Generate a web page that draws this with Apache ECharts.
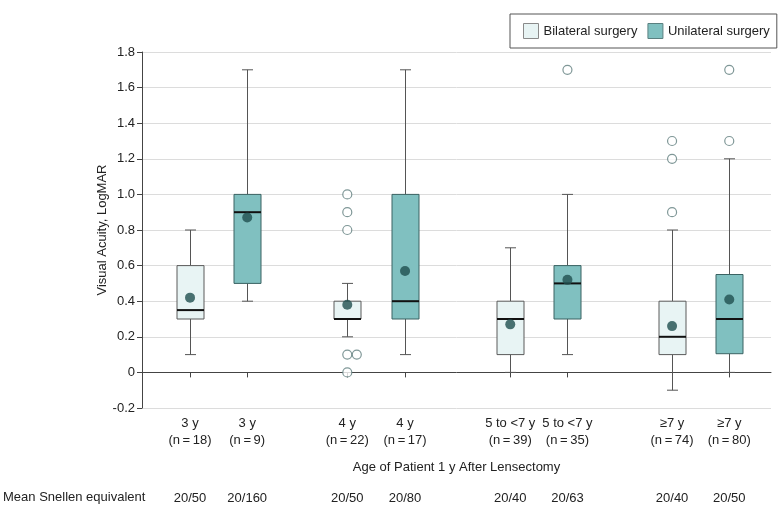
<!DOCTYPE html>
<html><head><meta charset="utf-8">
<script src="https://cdn.jsdelivr.net/npm/echarts@6/dist/echarts.min.js"></script>
<style>html,body{margin:0;padding:0;background:#fff}#c{width:780px;height:512px}</style>
</head><body><div id="c"></div>
<script>
// ---- data ----
const categories = ['3 y', '3 y', '4 y', '4 y', '5 to <7 y', '5 to <7 y', '\u22657 y', '\u22657 y'];
const groupN = [18, 9, 22, 17, 39, 35, 74, 80];
const surgeryType = ['Bilateral surgery', 'Unilateral surgery', 'Bilateral surgery', 'Unilateral surgery',
                     'Bilateral surgery', 'Unilateral surgery', 'Bilateral surgery', 'Unilateral surgery'];
const whiskerLow  = [0.10, 0.40, 0.20, 0.10, 0.00, 0.10, -0.10, 0.00];
const quart1      = [0.30, 0.50, 0.30, 0.30, 0.10, 0.30, 0.10, 0.105];
const medians     = [0.35, 0.90, 0.30, 0.40, 0.30, 0.50, 0.20, 0.30];
const quart3      = [0.60, 1.00, 0.40, 1.00, 0.40, 0.60, 0.40, 0.55];
const whiskerHigh = [0.80, 1.70, 0.50, 1.70, 0.70, 1.00, 0.80, 1.20];
const means       = [0.42, 0.87, 0.38, 0.57, 0.27, 0.52, 0.26, 0.41];
const outlierGroup = [2, 2, 2, 2, 2, 2, 5, 6, 6, 6, 7, 7];
const outlierValue = [1.0, 0.9, 0.8, 0.1, 0.1, 0.0, 1.7, 1.3, 1.2, 0.9, 1.7, 1.3];
const snellen = ['20/50', '20/160', '20/50', '20/80', '20/40', '20/63', '20/40', '20/50'];
const yMin = -0.2, yMax = 1.8, yStep = 0.2;

// ---- layout (positions of groups along x) ----
const xPos = [0.84, 1.84, 3.59, 4.6, 6.44, 7.44, 9.27, 10.27];
const xMax = 11;

const COL = {
  'Bilateral surgery':  {fill: '#e8f4f4', stroke: '#5a5a5a'},
  'Unilateral surgery': {fill: '#80c0c0', stroke: '#3a6262'}
};
const FONT = 'Liberation Sans, Arial, sans-serif';
const TXT = '#222';

function idxOf(v) {
  let best = 0, bd = Infinity;
  xPos.forEach((p, i) => { const d = Math.abs(p - v); if (d < bd) { bd = d; best = i; } });
  return best;
}

function boxData(type) {
  const out = [];
  categories.forEach((c, i) => {
    if (surgeryType[i] === type) out.push([xPos[i], whiskerLow[i], quart1[i], medians[i], quart3[i], whiskerHigh[i]]);
  });
  return out;
}

function makeRender(type) {
  return function (params, api) {
    const x = api.value(0);
    const lo = api.coord([x, api.value(1)]);
    const b1 = api.coord([x, api.value(2)]);
    const md = api.coord([x, api.value(3)]);
    const b3 = api.coord([x, api.value(4)]);
    const hi = api.coord([x, api.value(5)]);
    const cx = Math.round(lo[0]) + 0.5;
    const bw = 27, cw = 11;
    const wl = {stroke: '#555', lineWidth: 1};
    return {
      type: 'group',
      children: [
        {type: 'line', shape: {x1: cx, y1: hi[1], x2: cx, y2: b3[1]}, style: wl},
        {type: 'line', shape: {x1: cx, y1: b1[1], x2: cx, y2: lo[1]}, style: wl},
        {type: 'line', shape: {x1: cx - cw / 2, y1: hi[1], x2: cx + cw / 2, y2: hi[1]}, style: wl},
        {type: 'line', shape: {x1: cx - cw / 2, y1: lo[1], x2: cx + cw / 2, y2: lo[1]}, style: wl},
        {type: 'rect', shape: {x: cx - bw / 2, y: b3[1], width: bw, height: b1[1] - b3[1]},
         style: {fill: COL[type].fill, stroke: COL[type].stroke, lineWidth: 1}},
        {type: 'line', shape: {x1: cx - bw / 2, y1: md[1], x2: cx + bw / 2, y2: md[1]},
         style: {stroke: '#111', lineWidth: 2}}
      ]
    };
  };
}

const meanData = means.map((m, i) => [xPos[i], m]);
const seen = {};
const outlierData = outlierValue.map((v, k) => {
  const g = outlierGroup[k];
  const key = g + '_' + v;
  const n = seen[key] || 0;
  seen[key] = n + 1;
  return {value: [xPos[g], v], symbolOffset: [n * 9.5, 0]};
});

const chart = echarts.init(document.getElementById('c'), null, {renderer: 'canvas'});
chart.setOption({
  animation: false,
  backgroundColor: '#fff',
  textStyle: {fontFamily: FONT},
  grid: {left: 142, right: 9, top: 52, bottom: 104},
  legend: {
    orient: 'horizontal',
    left: 510, top: 14, width: 252,
    itemWidth: 15, itemHeight: 15, itemGap: 10,
    padding: [9, 7, 9, 13],
    borderColor: '#555', borderWidth: 1,
    textStyle: {fontSize: 13, color: TXT, fontFamily: FONT},
    data: [
      {name: 'Bilateral surgery', icon: 'rect',
       itemStyle: {color: COL['Bilateral surgery'].fill, borderColor: '#8a8a8a', borderWidth: 1}},
      {name: 'Unilateral surgery', icon: 'rect',
       itemStyle: {color: COL['Unilateral surgery'].fill, borderColor: '#5a8080', borderWidth: 1}}
    ]
  },
  xAxis: [{
    type: 'value', min: 0, max: xMax, position: 'bottom',
    axisLine: {show: true, lineStyle: {color: '#444', width: 1}},
    splitLine: {show: false},
    axisTick: {show: true, customValues: xPos, length: 5, lineStyle: {color: '#444'}},
    axisLabel: {
      customValues: xPos, fontSize: 13, color: TXT, lineHeight: 17, margin: 7, fontFamily: FONT,
      formatter: v => { const i = idxOf(v); return categories[i] + '\n(n\u2009=\u2009' + groupN[i] + ')'; }
    },
    name: 'Age of Patient 1 y After Lensectomy', nameLocation: 'middle', nameGap: 53,
    nameMoveOverlap: false,
    nameTextStyle: {fontSize: 13, color: TXT, fontFamily: FONT}
  }, {
    type: 'value', min: 0, max: xMax, position: 'bottom', offset: 76,
    axisLine: {show: false}, axisTick: {show: false}, splitLine: {show: false},
    axisLabel: {
      customValues: xPos, fontSize: 13, color: TXT, margin: 8, fontFamily: FONT,
      formatter: v => snellen[idxOf(v)]
    }
  }],
  yAxis: {
    type: 'value', min: yMin, max: yMax, interval: yStep,
    axisLine: {show: true, lineStyle: {color: '#444'}},
    axisTick: {show: true, length: 5, lineStyle: {color: '#444'}},
    axisLabel: {fontSize: 13, color: TXT, margin: 7, fontFamily: FONT,
      formatter: v => Math.abs(v) < 1e-9 ? '0' : v.toFixed(1)},
    splitLine: {show: true, lineStyle: {color: '#dcdcdc', width: 1}},
    name: 'Visual Acuity, LogMAR', nameLocation: 'middle', nameGap: 33, nameRotate: 90,
    nameMoveOverlap: false,
    nameTextStyle: {fontSize: 13, color: TXT, fontFamily: FONT}
  },
  graphic: [{
    type: 'text', left: 3, top: 491,
    style: {text: 'Mean Snellen equivalent', font: '13px ' + FONT, fill: TXT}
  }],
  series: [
    {name: 'Bilateral surgery', type: 'custom', renderItem: makeRender('Bilateral surgery'),
     data: boxData('Bilateral surgery'), encode: {x: 0, y: [1, 2, 3, 4, 5]}, z: 2,
     itemStyle: {color: COL['Bilateral surgery'].fill}},
    {name: 'Unilateral surgery', type: 'custom', renderItem: makeRender('Unilateral surgery'),
     data: boxData('Unilateral surgery'), encode: {x: 0, y: [1, 2, 3, 4, 5]}, z: 2,
     itemStyle: {color: COL['Unilateral surgery'].fill}},
    {name: 'Mean', type: 'scatter', data: meanData, symbol: 'circle', symbolSize: 10, z: 4,
     itemStyle: {color: '#1f4f4f'}},
    {name: 'Outliers', type: 'scatter', data: outlierData, symbol: 'circle', symbolSize: 9, z: 4,
     itemStyle: {color: '#fff', borderColor: '#5f7d7d', borderWidth: 1.2}}
  ]
});
</script>
</body></html>
